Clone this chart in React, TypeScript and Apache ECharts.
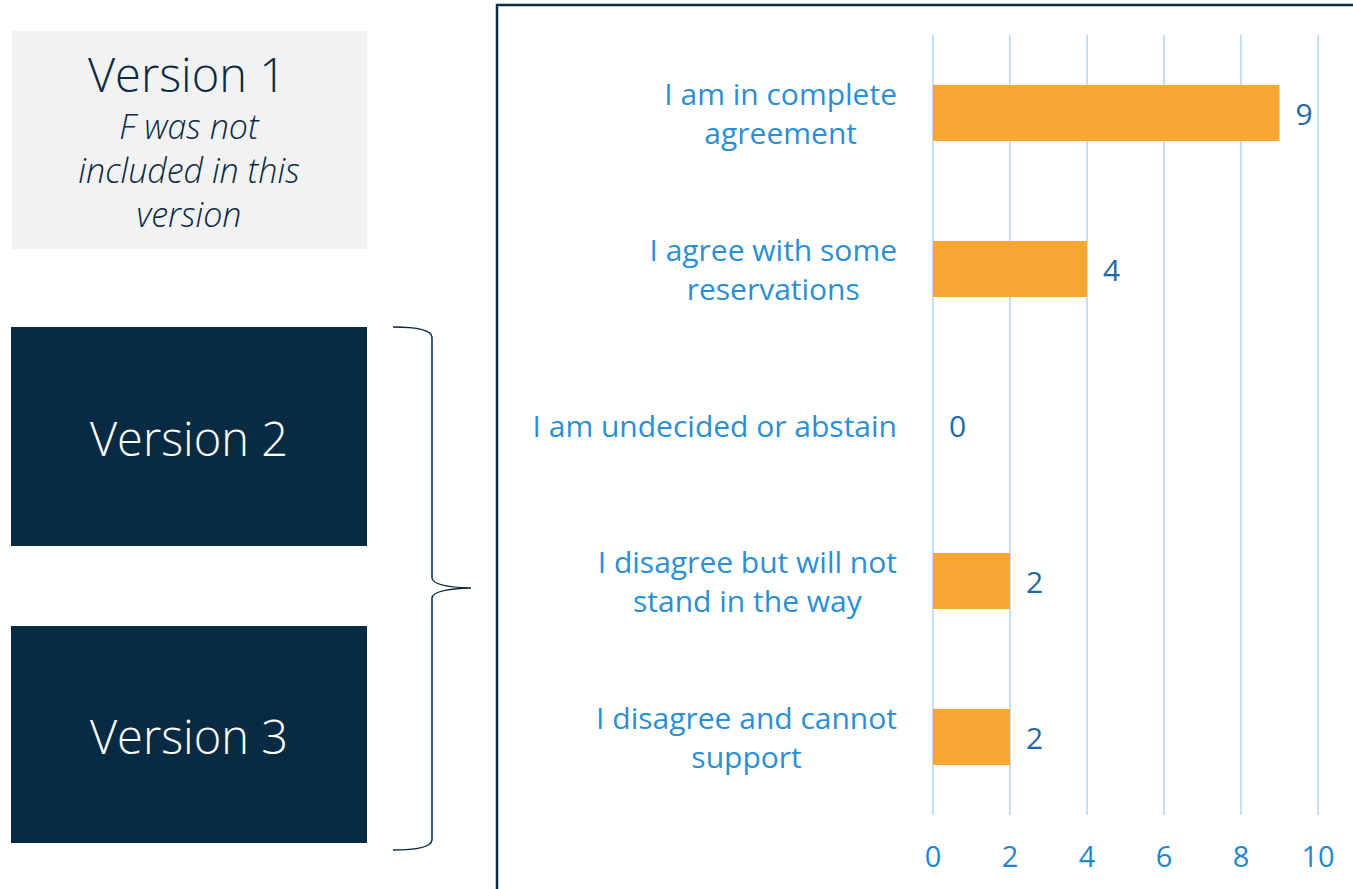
import React, { useEffect, useRef } from "react";
import * as echarts from "echarts";

const categories: string[] = [
  "I am in complete\nagreement",
  "I agree with some\nreservations",
  "I am undecided or abstain",
  "I disagree but will not\nstand in the way",
  "I disagree and cannot\nsupport",
];
const values: number[] = [9, 4, 0, 2, 2];
const xMin = 0;
const xMax = 10;
const xInterval = 2;

const boxTitles: string[] = ["Version 1", "Version 2", "Version 3"];
const version1Note = "F was not\nincluded in this\nversion";

const FONT = "'Open Sans', 'Noto Sans', sans-serif";
const NAVY = "#082a43";

const BRACE_D =
  "M393,327 Q431,327 432,337 L432,578 Q433,587 471,588 Q433,589 432,598 L432,840 Q431,850 393,850";

export default function App() {
  const ref = useRef<HTMLDivElement>(null);
  useEffect(() => {
    if (!ref.current) return;
    try {
      echarts.graphic.registerShape("brace", echarts.graphic.extendPath(BRACE_D, {}) as any);
    } catch (e) {}
    const chart = echarts.init(ref.current, null, { renderer: "svg" });
    const option: any = {
      animation: false,
      backgroundColor: "#ffffff",
      grid: { left: 933, right: 35, top: 35, bottom: 74, containLabel: false },
      xAxis: {
        type: "value",
        min: xMin,
        max: xMax,
        interval: xInterval,
        axisLine: { show: false },
        axisTick: { show: false },
        splitLine: { show: true, lineStyle: { color: "#c5e0f5", width: 2 } },
        axisLabel: {
          color: "#1e87cd",
          fontSize: 29,
          fontWeight: 400,
          fontFamily: FONT,
          margin: 26,
        },
      },
      yAxis: {
        type: "category",
        inverse: true,
        data: categories,
        axisLine: { show: false },
        axisTick: { show: false },
        splitLine: { show: false },
        axisLabel: {
          margin: 36,
          align: "right",
          formatter: (v: string) =>
            v
              .split("\n")
              .map((l) => `{c|${l}}`)
              .join("\n"),
          rich: {
            c: {
              align: "center",
              fontSize: 30,
              fontWeight: 400,
              lineHeight: 39,
              color: "#2a8fd4",
              fontFamily: FONT,
            },
          },
        },
      },
      series: [
        {
          type: "bar",
          data: values,
          barWidth: 56,
          itemStyle: { color: "#f9a634" },
          label: {
            show: true,
            position: "right",
            distance: 16,
            color: "#1f6aa5",
            fontSize: 30,
            fontWeight: 400,
            fontFamily: FONT,
          },
        },
      ],
      graphic: [
        {
          type: "rect",
          shape: { x: 497, y: 5, width: 900, height: 900 },
          style: { fill: "none", stroke: "#0b2a45", lineWidth: 2.5 },
          z: 10,
        },
        {
          type: "brace",
          x: 0,
          y: 0,
          style: { fill: "none", stroke: "#0b2a45", lineWidth: 1.5 },
        },
        {
          type: "rect",
          shape: { x: 12, y: 31, width: 355, height: 218 },
          style: { fill: "#f2f2f2" },
        },
        {
          type: "text",
          x: 187,
          y: 74,
          style: {
            text: boxTitles[0],
            fill: "#0b2a45",
            fontSize: 47,
            fontWeight: 300,
            fontFamily: FONT,
            align: "center",
            verticalAlign: "middle",
          },
        },
        {
          type: "text",
          x: 189,
          y: 170,
          style: {
            text: version1Note,
            fill: "#0b2a45",
            fontSize: 34,
            fontStyle: "italic",
            fontWeight: 300,
            lineHeight: 44,
            fontFamily: FONT,
            align: "center",
            verticalAlign: "middle",
          },
        },
        {
          type: "rect",
          shape: { x: 11, y: 327, width: 356, height: 219 },
          style: { fill: NAVY },
        },
        {
          type: "text",
          x: 189,
          y: 438,
          style: {
            text: boxTitles[1],
            fill: "#ffffff",
            fontSize: 47,
            fontWeight: 300,
            fontFamily: FONT,
            align: "center",
            verticalAlign: "middle",
          },
        },
        {
          type: "rect",
          shape: { x: 11, y: 626, width: 356, height: 217 },
          style: { fill: NAVY },
        },
        {
          type: "text",
          x: 189,
          y: 736,
          style: {
            text: boxTitles[2],
            fill: "#ffffff",
            fontSize: 47,
            fontWeight: 300,
            fontFamily: FONT,
            align: "center",
            verticalAlign: "middle",
          },
        },
      ],
    };
    chart.setOption(option);
    return () => chart.dispose();
  }, []);
  return (
    <div
      ref={ref}
      style={{ position: "fixed", left: 0, top: 0, width: 1353, height: 889 }}
    />
  );
}
